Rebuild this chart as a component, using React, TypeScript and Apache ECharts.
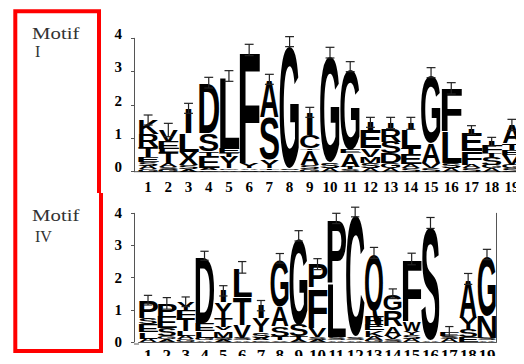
import React, { useEffect, useRef } from "react";
import * as echarts from "echarts";

const positions = ["1","2","3","4","5","6","7","8","9","10","11","12","13","14","15","16","17","18","19"];
const yTicks = [0, 1, 2, 3, 4];

// Motif I — letters per position, bottom to top, with heights in bits
const motif1Letters = ["GASETRK","GSATLEV","ASXLI","GAETSD","AGYTEL","SAYF","GTYSA","ASG","GSATCI","ASG","STAEG","ASMVEI","AGDSRI","SAETLI","SVAG","ASLF","SAFEI","AGSTFI","SGVETA"];
const motif1Heights = [
  [0.08,0.1,0.12,0.15,0.3,0.38,0.42],
  [0.06,0.08,0.1,0.34,0.1,0.22,0.35],
  [0.08,0.12,0.4,0.55,0.75],
  [0.04,0.06,0.35,0.15,0.55,1.52],
  [0.05,0.05,0.35,0.1,0.15,2.17],
  [0.05,0.05,0.15,3.4],
  [0.05,0.05,0.25,1.3,1.12],
  [0.05,0.05,3.8],
  [0.08,0.12,0.45,0.05,0.4,0.68],
  [0.1,0.15,3.32],
  [0.07,0.08,0.4,0.1,2.5],
  [0.1,0.15,0.2,0.25,0.55,0.23],
  [0.1,0.15,0.3,0.35,0.4,0.16],
  [0.12,0.1,0.3,0.2,0.55,0.18],
  [0.1,0.15,0.6,2.12],
  [0.1,0.15,0.95,1.3],
  [0.1,0.1,0.4,0.55,0.1],
  [0.1,0.1,0.25,0.1,0.25,0.1],
  [0.1,0.1,0.3,0.15,0.2,0.55]
];
const motif1ErrTop = [1.70,1.45,2.05,2.83,3.03,3.82,2.92,4.05,1.93,3.73,3.30,1.63,1.63,1.63,3.12,2.67,1.38,1.03,1.57];

// Motif IV
const motif4Letters = ["ALESP","AGSEP","GALTFY","AGLED","ASMVTYI","ASVTL","GASYI","VTSAG","ATSG","ASVFP","ASLP","ASC","GAKEFQ","SVARG","ASYWF","AS","ASE","ESYA","ASNG"];
const motif4Heights = [
  [0.1,0.2,0.25,0.2,0.55],
  [0.08,0.1,0.25,0.35,0.42],
  [0.08,0.1,0.16,0.39,0.25,0.27],
  [0.05,0.07,0.21,0.25,2.1],
  [0.06,0.08,0.22,0.1,0.3,0.48,0.35],
  [0.05,0.07,0.4,0.88,0.92],
  [0.05,0.07,0.18,0.43,0.4],
  [0.05,0.1,0.35,0.6,1.5],
  [0.07,0.1,0.36,2.77],
  [0.07,0.08,0.3,1.25,0.72],
  [0.05,0.1,1.7,1.99],
  [0.05,0.1,3.89],
  [0.07,0.1,0.2,0.2,0.25,1.95],
  [0.1,0.1,0.3,0.5,0.5],
  [0.1,0.12,0.13,0.3,1.93],
  [0.05,3.65],
  [0.1,0.1,0.13],
  [0.15,0.25,0.35,1.21],
  [0.05,0.07,0.68,1.92]
];
const motif4ErrTop = [1.45,1.38,1.40,2.82,1.75,2.50,1.29,2.75,3.46,2.59,4.00,4.19,2.94,1.65,2.76,3.87,0.48,2.13,2.88];

// glyph ink metrics (em) for a bold sans font
const ROUND = "CGOS";
const INK: Record<string, number> = {
  A: 0.71, C: 0.64, D: 0.6, E: 0.53, F: 0.49, G: 0.68, I: 0.14, K: 0.64, L: 0.52, M: 0.69,
  N: 0.58, P: 0.55, Q: 0.7, R: 0.63, S: 0.6, T: 0.58, V: 0.67, W: 0.94, X: 0.66, Y: 0.66, Z: 0.58
};
const CENTRAL = (0.905 - 0.212) / 2;
const FS = 100;

type Item = { col: number; y0: number; y1: number; ch: string };

function buildItems(letters: string[], heights: number[][]): Item[] {
  const out: Item[] = [];
  letters.forEach((s, i) => {
    let base = 0;
    s.split("").forEach((ch, j) => {
      const h = heights[i][j];
      out.push({ col: i, y0: base, y1: base + h, ch });
      base += h;
    });
  });
  return out;
}

function stackTops(heights: number[][]): number[] {
  return heights.map((hs) => hs.reduce((a, b) => a + b, 0));
}

function letterSeries(items: Item[], gridIndex: number) {
  return {
    type: "custom",
    xAxisIndex: gridIndex,
    yAxisIndex: gridIndex * 2,
    clip: false,
    data: items.map((it) => [it.col, it.y0, it.y1]),
    renderItem: (params: any, api: any) => {
      const it = items[params.dataIndex];
      const col = api.value(0);
      const p0 = api.coord([col, api.value(1)]);
      const p1 = api.coord([col, api.value(2)]);
      const band = api.size([1, 0])[0];
      const h = p0[1] - p1[1];
      if (h <= 0.1) return null;
      const ch = it.ch;
      const w = band * (ch === "I" ? 0.26 : 0.95);
      const ink = INK[ch] || 0.62;
      let bot = 0, top = 0.716;
      if (ROUND.indexOf(ch) >= 0) { bot = -0.013; top = 0.729; }
      if (ch === "Q") { bot = -0.06; top = 0.729; }
      const sx = w / (ink * FS);
      const sy = h / ((top - bot) * FS);
      const mid = (top + bot) / 2;
      const cy = (p0[1] + p1[1]) / 2 + (mid - CENTRAL) * FS * sy;
      return {
        type: "text",
        x: p0[0],
        y: cy,
        scaleX: sx,
        scaleY: sy,
        style: {
          text: ch,
          x: 0,
          y: 0,
          fill: "#000",
          font: 'bold 100px "Liberation Sans", Arial, sans-serif',
          lineHeight: 72,
          align: "center",
          verticalAlign: "middle",
          textAlign: "center",
          textVerticalAlign: "middle"
        }
      };
    }
  };
}

function errorSeries(tops: number[], caps: number[], gridIndex: number) {
  return {
    type: "custom",
    xAxisIndex: gridIndex,
    yAxisIndex: gridIndex * 2,
    clip: false,
    z: 5,
    data: tops.map((t, i) => [i, t, caps[i]]),
    renderItem: (params: any, api: any) => {
      const col = api.value(0);
      const t = api.value(1);
      const c = api.value(2);
      const e = c - t;
      const pu = api.coord([col, c]);
      const pl = api.coord([col, t - e]);
      const band = api.size([1, 0])[0];
      const hw = band * 0.22;
      const st = { stroke: "#222", lineWidth: 1.2 };
      return {
        type: "group",
        children: [
          { type: "line", shape: { x1: pu[0], y1: pu[1], x2: pl[0], y2: pl[1] }, style: st },
          { type: "line", shape: { x1: pu[0] - hw, y1: pu[1], x2: pu[0] + hw, y2: pu[1] }, style: st },
          { type: "line", shape: { x1: pl[0] - hw, y1: pl[1], x2: pl[0] + hw, y2: pl[1] }, style: st }
        ]
      };
    }
  };
}

const serif = '"Liberation Serif", "Times New Roman", serif';

function xAxisCfg(gridIndex: number, fontSize: number, margin: number) {
  return {
    type: "category",
    gridIndex,
    data: positions,
    axisLine: { show: true, lineStyle: { color: "#555", width: 1 } },
    axisTick: { show: false },
    axisLabel: {
      color: "#000",
      fontFamily: serif,
      fontWeight: "bold",
      fontSize,
      lineHeight: 12,
      margin,
      interval: 0
    }
  };
}

function yAxisCfg(gridIndex: number, offset: number, raised: boolean) {
  return {
    type: "value",
    gridIndex,
    min: yTicks[0],
    max: yTicks[yTicks.length - 1],
    interval: 1,
    offset,
    axisLine: { show: true, lineStyle: { color: "#555", width: 1 } },
    axisTick: { show: true, length: 3, lineStyle: { color: "#555" } },
    axisLabel: {
      color: "#000",
      fontFamily: serif,
      fontWeight: "bold",
      fontSize: 15,
      lineHeight: raised ? 9 : 12,
      verticalAlign: raised ? "bottom" : "middle",
      margin: 12
    },
    splitLine: { show: false }
  };
}

function rightAxisCfg(gridIndex: number, show: boolean) {
  return {
    type: "value",
    gridIndex,
    position: "right",
    min: 0,
    max: 4,
    interval: 1,
    axisLine: { show, lineStyle: { color: "#555", width: 1 } },
    axisTick: { show: false },
    axisLabel: { show: false },
    splitLine: { show: false }
  };
}

export default function App() {
  const ref = useRef<HTMLDivElement>(null);
  useEffect(() => {
    if (!ref.current) return;
    const chart = echarts.init(ref.current, undefined, { renderer: "svg" });
    const items1 = buildItems(motif1Letters, motif1Heights);
    const items4 = buildItems(motif4Letters, motif4Heights);
    const tops1 = stackTops(motif1Heights);
    const tops4 = stackTops(motif4Heights);
    const textStyle = {
      fill: "#333",
      font: '16px "Liberation Serif", "Times New Roman", serif',
      textVerticalAlign: "middle"
    };
    chart.setOption({
      animation: false,
      backgroundColor: "#fff",
      grid: [
        { left: 138, top: 38.3, width: 384, height: 133.4, containLabel: false },
        { left: 138.6, top: 213.3, width: 357.8, height: 130.7, containLabel: false }
      ],
      xAxis: [xAxisCfg(0, 15, 9), xAxisCfg(1, 17, 7.5)],
      yAxis: [yAxisCfg(0, 4, true), rightAxisCfg(0, false), yAxisCfg(1, 4.6, false), rightAxisCfg(1, true)],
      series: [
        letterSeries(items1, 0),
        errorSeries(tops1, motif1ErrTop, 0),
        letterSeries(items4, 1),
        errorSeries(tops4, motif4ErrTop, 1)
      ],
      graphic: [
        {
          type: "polyline",
          shape: { points: [[99, 193], [99, 11.3], [15.3, 11.3], [15.3, 351], [101, 351], [101, 193]] },
          style: { stroke: "#ff0000", lineWidth: 4, fill: "none" }
        },
        { type: "line", shape: { x1: 134, y1: 171.7, x2: 524, y2: 171.7 }, style: { stroke: "#555", lineWidth: 1 } },
        { type: "line", shape: { x1: 134, y1: 344, x2: 139, y2: 344 }, style: { stroke: "#555", lineWidth: 1 } },
        { type: "text", x: 32, y: 33.5, scaleX: 1.3, style: { ...textStyle, text: "Motif" } },
        { type: "text", x: 35, y: 51.5, style: { ...textStyle, text: "I" } },
        { type: "text", x: 32, y: 215, scaleX: 1.3, style: { ...textStyle, text: "Motif" } },
        { type: "text", x: 35, y: 236, style: { ...textStyle, text: "IV" } }
      ]
    });
    return () => chart.dispose();
  }, []);
  return <div ref={ref} style={{ width: 524, height: 364, margin: -8 }} />;
}
